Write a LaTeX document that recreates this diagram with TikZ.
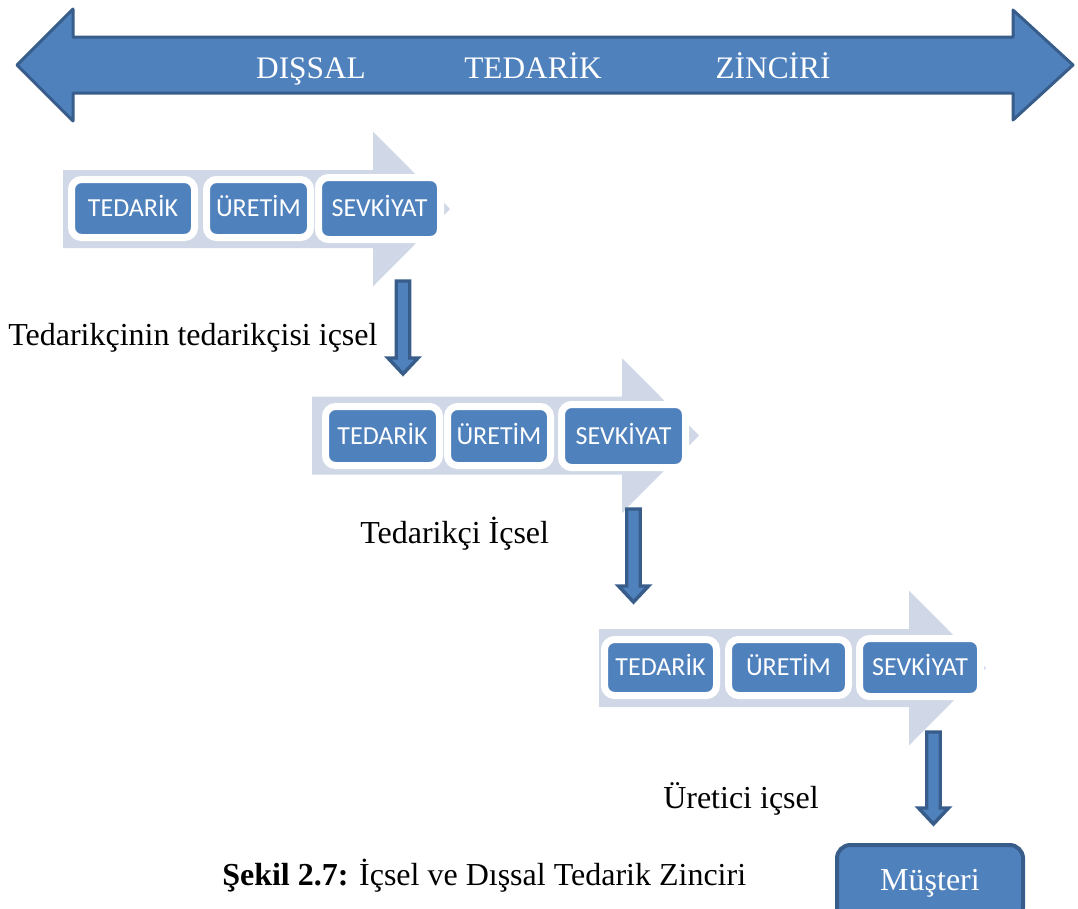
\documentclass[tikz,border=0pt]{standalone}
\usepackage{fontspec}
\setmainfont{Liberation Serif}
\newfontfamily\boxfont{Carlito}
\definecolor{accent}{HTML}{4F81BD}
\definecolor{accentdark}{HTML}{385D8A}
\definecolor{pale}{HTML}{D0D8E8}

\tikzset{
  bigarrow/.style={fill=accent, draw=accentdark, line width=2.25pt, line join=round},
  bigtext/.style={text=white, inner sep=0pt, font=\fontsize{23.5}{28}\selectfont},
  palearrow/.style={fill=pale},
  stage/.style 2 args={draw=white, fill=accent, line width=5.25pt, rounded corners=7.5pt,
    minimum width=#1*0.75pt+5.25pt, minimum height=#2*0.75pt+5.25pt, inner sep=0pt,
    text=white, text height=12.5pt, text depth=0pt,
    font=\boxfont\fontsize{19.5}{23}\selectfont},
  downarrow/.style={fill=accent, draw=accentdark, line width=2.6pt, line join=miter},
  label/.style={inner sep=0pt, anchor=base west, font=\fontsize{24}{29}\selectfont},
  customer/.style={fill=accent, draw=accentdark, line width=3pt, rounded corners=10pt,
    minimum width=139.5pt, minimum height=57pt, inner sep=0pt, text=white,
    font=\fontsize{24}{29}\selectfont}
}

\begin{document}
\begin{tikzpicture}[x=0.75pt, y=-0.75pt]
\useasboundingbox (0,0) rectangle (1078,908);
\clip (0,0) rectangle (1078,908);

% external supply chain double arrow
\draw[bigarrow] (17,65) -- (73,9) -- (73,37) -- (1013,37) -- (1013,10) -- (1073,65)
  -- (1013,120) -- (1013,93) -- (73,93) -- (73,121) -- cycle;
\node[bigtext, anchor=base] (d1) at (311,78) {DIŞSAL};
\node[bigtext, anchor=base] (d2) at (533,78) {TEDARİK};
\node[bigtext, anchor=base] (d3) at (773,78) {ZİNCİRİ};

% pale process arrows behind each stage row
\foreach \x/\y in {63/209, 312/435.5, 599/668} {
  \begin{scope}[shift={(\x,\y)}]
    \fill[palearrow] (0,-39) -- (310,-39) -- (310,-77.5) -- (387,0) -- (310,77.5)
      -- (310,39) -- (0,39) -- cycle;
  \end{scope}
}

% row 1
\node[stage={116}{51}] (t1) at (133,208.5) {TEDARİK};
\node[stage={97}{51}]  (u1) at (258.5,208.5) {ÜRETİM};
\node[stage={115}{55}] (s1) at (379.5,208.5) {SEVKİYAT};

% row 2
\node[stage={107}{52}] (t2) at (382.5,436) {TEDARİK};
\node[stage={96}{52}]  (u2) at (499,436) {ÜRETİM};
\node[stage={117}{56}] (s2) at (623.5,436) {SEVKİYAT};

% row 3
\node[stage={105}{49}] (t3) at (660.5,667.5) {TEDARİK};
\node[stage={113}{49}] (u3) at (788.5,667.5) {ÜRETİM};
\node[stage={114}{51}] (s3) at (920,667.5) {SEVKİYAT};

% downward block arrows between rows
\foreach \cx/\top/\len in {403/281/77, 633.5/509/77, 933.5/732/76} {
  \begin{scope}[shift={(\cx,\top)}]
    \draw[downarrow] (-6.75,0) -- (6.75,0) -- (6.75,\len) -- (15,\len) -- (0,\len+16)
      -- (-15,\len) -- (-6.75,\len) -- cycle;
  \end{scope}
}

% labels
\node[label] (l1) at (8,345) {Tedarikçinin tedarikçisi içsel};
\node[label] (l2) at (360,543) {Tedarikçi İçsel};
\node[label] (l3) at (663,808) {Üretici içsel};
\node[label] (cap) at (222,885) {\textbf{Şekil 2.7:} İçsel ve Dışsal Tedarik Zinciri};

% customer
\node[customer] (m) at (930,883) {Müşteri};
\end{tikzpicture}
\end{document}
